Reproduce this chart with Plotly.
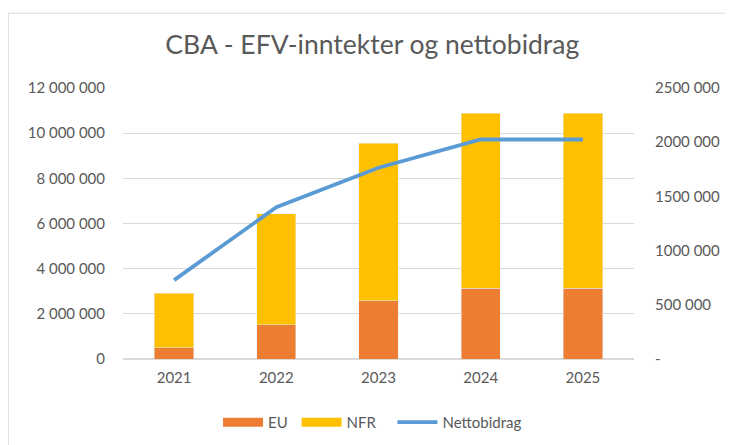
import plotly.graph_objects as go

years = ["2021", "2022", "2023", "2024", "2025"]
eu = [490000, 1510000, 2580000, 3130000, 3130000]
nfr_total = [2920000, 6440000, 9550000, 10880000, 10880000]
nfr = [t - e for t, e in zip(nfr_total, eu)]
netto = [728000, 1400000, 1764000, 2025000, 2025000]

left_ticks = [0, 2000000, 4000000, 6000000, 8000000, 10000000, 12000000]
left_labels = ["0", "2 000 000", "4 000 000", "6 000 000", "8 000 000", "10 000 000", "12 000 000"]
right_ticks = [0, 500000, 1000000, 1500000, 2000000, 2500000]
right_labels = ["-", "500 000", "1000 000", "1500 000", "2000 000", "2500 000"]

font_fam = "Lato, Open Sans, sans-serif"
grey = "#595959"
c_eu, c_nfr, c_net = "#ED7D31", "#FFC000", "#5B9BD5"
nb = "\u00a0"

fig = go.Figure()
fig.add_trace(go.Bar(x=years, y=eu, name="EU", marker_color=c_eu, showlegend=False, legendgroup="eu"))
fig.add_trace(go.Bar(x=years, y=nfr, name="NFR", marker_color=c_nfr, showlegend=False, legendgroup="nfr"))
fig.add_trace(go.Scatter(x=years, y=netto, name="Nettobidrag", yaxis="y2",
                         mode="lines", line=dict(color=c_net, width=3.8), showlegend=False,
                         legendgroup="net"))
# legend entries (Excel-style wide swatches)
fig.add_trace(go.Scatter(x=[None], y=[None], name="EU" + nb, mode="lines",
                         line=dict(color=c_eu, width=9), legendgroup="eu"))
fig.add_trace(go.Scatter(x=[None], y=[None], name="NFR" + nb * 3, mode="lines",
                         line=dict(color=c_nfr, width=9), legendgroup="nfr"))
fig.add_trace(go.Scatter(x=[None], y=[None], name="Nettobidrag", mode="lines",
                         line=dict(color=c_net, width=3.8), legendgroup="net"))

fig.update_layout(
    width=733, height=445,
    barmode="stack", bargap=0.615,
    paper_bgcolor="white", plot_bgcolor="white",
    margin=dict(l=115, r=107, t=80, b=93.5),
    title=dict(text="CBA - EFV-inntekter og nettobidrag", x=0.497, xanchor="center",
               yref="container", y=0.917, yanchor="middle",
               font=dict(family=font_fam, size=26.5, color=grey)),
    font=dict(family=font_fam, size=15, color=grey),
    xaxis=dict(showgrid=False, showline=False, ticks="", tickfont=dict(size=15, color=grey),
               ticklabelstandoff=8),
    yaxis=dict(range=[0, 12000000], tickvals=left_ticks, ticktext=left_labels,
               showgrid=True, gridcolor="#D9D9D9", gridwidth=1, zeroline=True,
               zerolinecolor="#D9D9D9", ticks="", tickfont=dict(size=15, color=grey),
               ticklabelstandoff=17),
    yaxis2=dict(range=[0, 2500000], tickvals=right_ticks, ticktext=right_labels,
                overlaying="y", side="right", showgrid=False, zeroline=False,
                ticks="", tickfont=dict(size=15, color=grey), ticklabelstandoff=20),
    legend=dict(orientation="h", x=0.186, xanchor="left", y=-0.234, yanchor="middle",
                font=dict(size=15, color=grey), traceorder="normal", itemwidth=40),
    shapes=[dict(type="rect", xref="paper", yref="paper", x0=-0.2245, x1=1.25,
                 y0=-0.4, y1=1.276, line=dict(color="#D9D9D9", width=1))],
)

fig.write_html("out.html")
